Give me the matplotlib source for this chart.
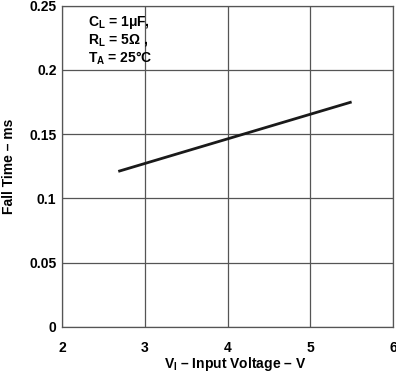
import matplotlib
matplotlib.use("Agg")
import matplotlib.pyplot as plt

# Data
vin = [2.68, 5.5]
fall_time = [0.121, 0.175]
x_ticks = [2, 3, 4, 5, 6]
y_ticks = [0, 0.05, 0.1, 0.15, 0.2, 0.25]
y_tick_labels = ["0", "0.05", "0.1", "0.15", "0.2", "0.25"]

plt.rcParams['font.family'] = ['Liberation Sans', 'DejaVu Sans']
plt.rcParams['font.weight'] = 'bold'
plt.rcParams['mathtext.fontset'] = 'custom'
plt.rcParams['mathtext.rm'] = 'Liberation Sans:bold'
plt.rcParams['mathtext.it'] = 'Liberation Sans:bold'
plt.rcParams['mathtext.bf'] = 'Liberation Sans:bold'
plt.rcParams['mathtext.default'] = 'rm'

W, H = 396, 373
fig = plt.figure(figsize=(W/100, H/100), dpi=100)
left, right, top, bottom = 62, 393, 5.5, 327
ax = fig.add_axes([left/W, (H-bottom)/H, (right-left)/W, (bottom-top)/H])

ax.plot(vin, fall_time, color='#1a1a1a', lw=2.0, solid_capstyle='butt')
ax.set_xlim(2, 6)
ax.set_ylim(0, 0.25)
ax.set_xticks(x_ticks)
ax.set_xticklabels([str(t) for t in x_ticks])
ax.set_yticks(y_ticks)
ax.set_yticklabels(y_tick_labels)
ax.tick_params(length=0, labelsize=10, colors='black')
ax.tick_params(axis='x', pad=10)
ax.tick_params(axis='y', pad=4)
ax.grid(True, color='#555555', lw=0.9)
ax.set_axisbelow(True)
for s in ax.spines.values():
    s.set_color('#555555')
    s.set_linewidth(0.9)

fig.text(235/W, 1 - 364/H, 'V$_I$ – Input Voltage – V', fontsize=10, fontweight='bold',
         ha='center', va='center')
fig.text(9/W, 1 - 166/H, 'Fall Time – ms', fontsize=10, fontweight='bold',
         ha='center', va='center', rotation=90)

ax.text(0.08, 0.975, 'C$_L$ = 1μF,\nR$_L$ = 5Ω ,\nT$_A$ = 25°C', transform=ax.transAxes,
        ha='left', va='top', fontsize=10, fontweight='bold', linespacing=1.12)

fig.savefig('out.png', dpi=100)
